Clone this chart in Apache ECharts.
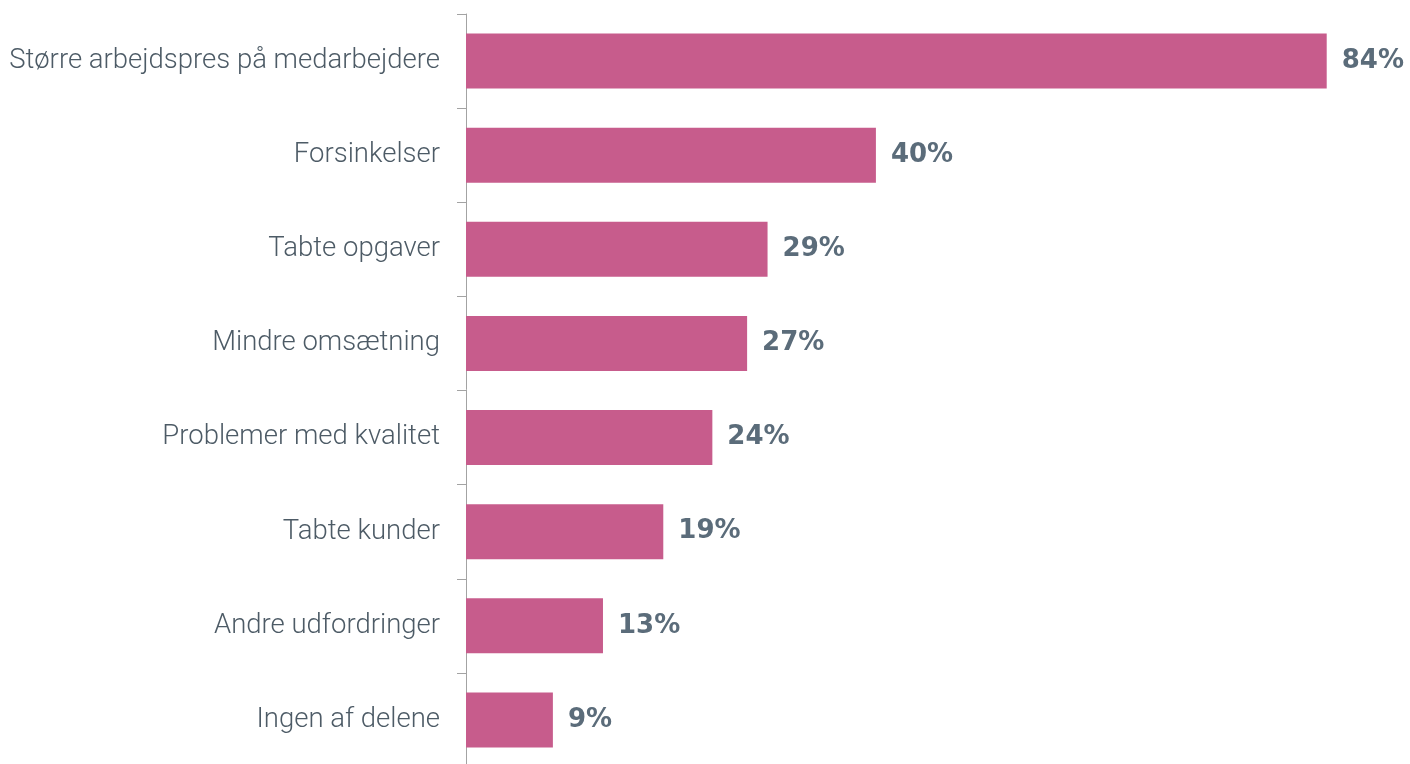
<!DOCTYPE html>
<html>
<head>
<meta charset="utf-8">
<script src="https://cdn.jsdelivr.net/npm/echarts@6/dist/echarts.min.js"></script>
<style>
html,body{margin:0;padding:0;background:#fff;}
#chart{width:1410px;height:764px;}
</style>
</head>
<body>
<div id="chart"></div>
<script>
const categories = [
  "Større arbejdspres på medarbejdere",
  "Forsinkelser",
  "Tabte opgaver",
  "Mindre omsætning",
  "Problemer med kvalitet",
  "Tabte kunder",
  "Andre udfordringer",
  "Ingen af delene"
];
const values = [84.2, 40.1, 29.5, 27.5, 24.1, 19.3, 13.4, 8.5];
const valueLabels = ["84%", "40%", "29%", "27%", "24%", "19%", "13%", "9%"];

const chart = echarts.init(document.getElementById('chart'), null, {renderer: 'canvas'});
chart.setOption({
  animation: false,
  grid: {left: 466, right: 24, top: 14, bottom: -3, containLabel: false, outerBoundsMode: 'none'},
  xAxis: {
    type: 'value', min: 0, max: 90, show: false
  },
  yAxis: {
    type: 'category',
    inverse: true,
    data: categories,
    axisLine: {show: true, lineStyle: {color: '#a3a3a3', width: 1}},
    axisTick: {show: true, length: 9, lineStyle: {color: '#a3a3a3', width: 1}},
    axisLabel: {
      margin: 26,
      color: '#4d5b66',
      fontFamily: 'Roboto',
      fontWeight: 300,
      fontSize: 27.5
    },
    splitLine: {show: false}
  },
  series: [{
    type: 'bar',
    data: values,
    barWidth: 55,
    itemStyle: {color: '#c75c8c'},
    label: {
      show: true,
      position: 'right',
      distance: 15,
      color: '#5b6c7a',
      fontFamily: 'DejaVu Sans',
      fontWeight: 'bold',
      fontSize: 26,
      formatter: p => valueLabels[p.dataIndex]
    }
  }]
});
</script>
</body>
</html>
